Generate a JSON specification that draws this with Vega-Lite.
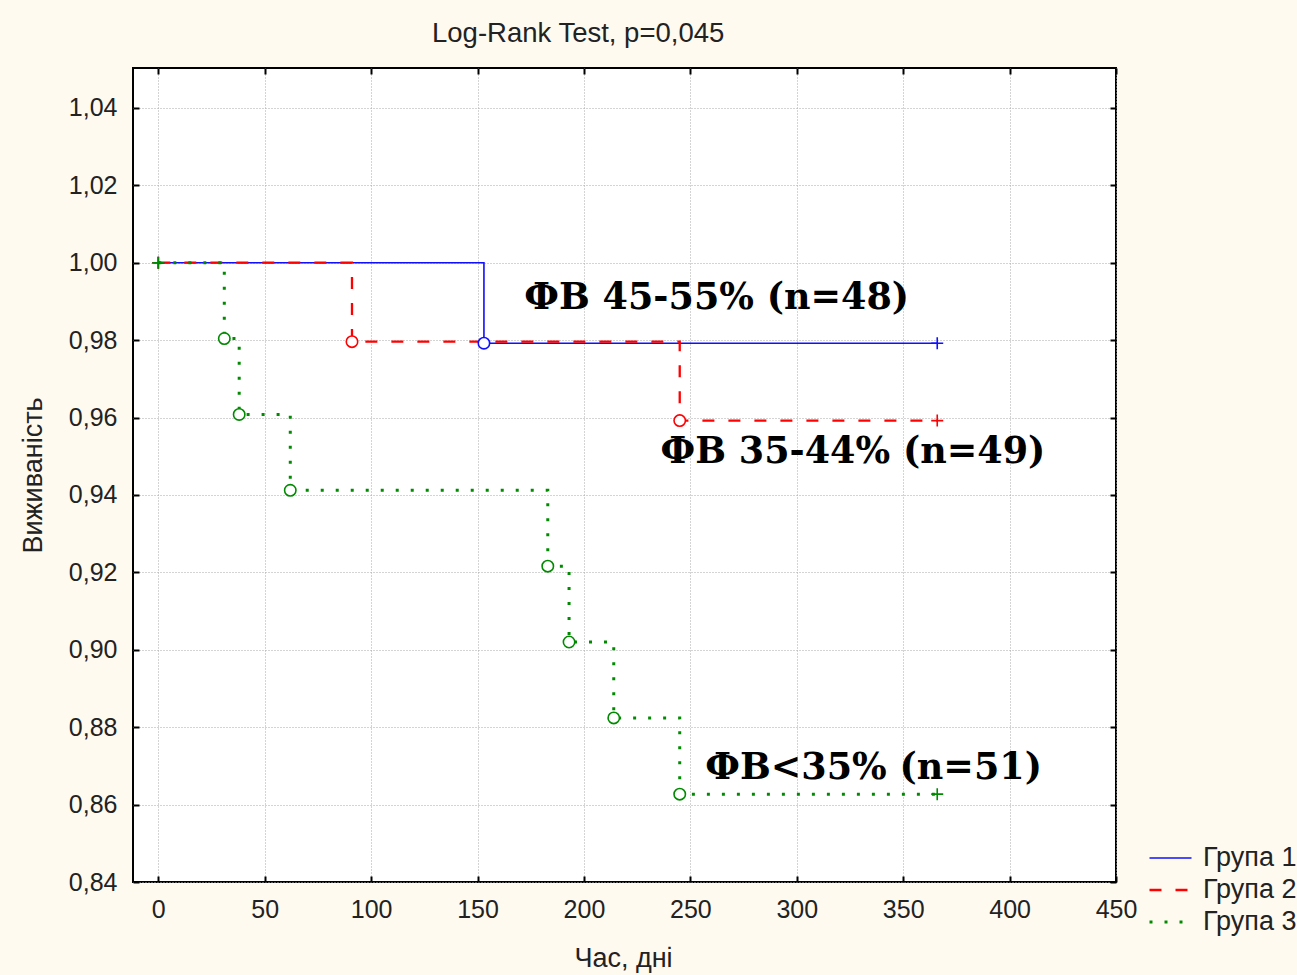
{
  "$schema": "https://vega.github.io/schema/vega-lite/v6.json",
  "autosize": {"type": "none"},
  "width": 983,
  "height": 814,
  "padding": {"left": 133, "top": 68, "right": 181, "bottom": 93},
  "background": "#fffaf0",
  "title": {
    "text": "Log-Rank Test, p=0,045",
    "anchor": "start",
    "frame": "group",
    "dx": 299,
    "offset": -2,
    "baseline": "alphabetic",
    "font": "Liberation Sans",
    "fontSize": 27.5,
    "fontWeight": "normal",
    "color": "#222222"
  },
  "datasets": {
    "curves": [
      {"group": "Група 1", "t": 0, "s": 1.0, "kind": "start"},
      {"group": "Група 1", "t": 153, "s": 0.9792, "kind": "event"},
      {"group": "Група 1", "t": 366, "s": 0.9792, "kind": "censor"},
      {"group": "Група 2", "t": 0, "s": 1.0, "kind": "start"},
      {"group": "Група 2", "t": 91, "s": 0.9796, "kind": "event"},
      {"group": "Група 2", "t": 245, "s": 0.9592, "kind": "event"},
      {"group": "Група 2", "t": 366, "s": 0.9592, "kind": "censor"},
      {"group": "Група 3", "t": 0, "s": 1.0, "kind": "start"},
      {"group": "Група 3", "t": 31, "s": 0.9804, "kind": "event"},
      {"group": "Група 3", "t": 38, "s": 0.9608, "kind": "event"},
      {"group": "Група 3", "t": 62, "s": 0.9412, "kind": "event"},
      {"group": "Група 3", "t": 183, "s": 0.9216, "kind": "event"},
      {"group": "Група 3", "t": 193, "s": 0.902, "kind": "event"},
      {"group": "Група 3", "t": 214, "s": 0.8824, "kind": "event"},
      {"group": "Група 3", "t": 245, "s": 0.8627, "kind": "event"},
      {"group": "Група 3", "t": 366, "s": 0.8627, "kind": "censor"}
    ],
    "notes": [
      {"label": "ФВ 45-55% (n=48)", "t": 172, "s": 0.9909},
      {"label": "ФВ 35-44% (n=49)", "t": 236, "s": 0.9511},
      {"label": "ФВ<35% (n=51)", "t": 257, "s": 0.8695}
    ]
  },
  "config": {
    "view": {"stroke": "#000000", "strokeWidth": 2, "fill": "#ffffff"},
    "axis": {
      "labelFont": "Liberation Sans",
      "labelFontSize": 25,
      "labelColor": "#222222",
      "labelFlush": false,
      "titleFont": "Liberation Sans",
      "titleFontSize": 27,
      "titleFontWeight": "normal",
      "titleColor": "#222222",
      "domain": false,
      "tickColor": "#000000",
      "tickWidth": 2,
      "tickSize": -6,
      "gridColor": "#a8a8a8",
      "gridDash": [1, 2],
      "gridWidth": 1
    }
  },
  "resolve": {"axis": {"x": "independent", "y": "independent"}},
  "layer": [
    {
      "data": {"name": "curves"},
      "mark": {"type": "line", "interpolate": "step-after"},
      "encoding": {
        "x": {
          "field": "t", "type": "quantitative",
          "scale": {"domain": [-11.9, 450], "nice": false, "zero": false},
          "axis": {
            "orient": "bottom",
            "values": [0, 50, 100, 150, 200, 250, 300, 350, 400, 450],
            "format": "d",
            "labelPadding": 21,
            "title": "Час, дні",
            "titleX": 490,
            "titleY": 76,
            "titleBaseline": "middle",
            "titleAlign": "center"
          }
        },
        "y": {
          "field": "s", "type": "quantitative",
          "scale": {"domain": [0.84, 1.0503], "nice": false, "zero": false},
          "axis": {
            "orient": "left",
            "values": [0.84, 0.86, 0.88, 0.9, 0.92, 0.94, 0.96, 0.98, 1.0, 1.02, 1.04],
            "labelExpr": "replace(format(datum.value, '.2f'), '.', ',')",
            "labelPadding": 22,
            "title": "Виживаність",
            "titleX": -100,
            "titleY": 407,
            "titleAngle": -90,
            "titleBaseline": "middle",
            "titleAlign": "center"
          }
        },
        "color": {
          "field": "group", "type": "nominal",
          "scale": {"domain": ["Група 1", "Група 2", "Група 3"], "range": ["#1010ff", "#ff0000", "#008a00"]},
          "legend": {
            "orient": "none",
            "legendX": 1015,
            "legendY": 774,
            "title": null,
            "padding": 0,
            "symbolType": "stroke",
            "symbolSize": 1764,
            "symbolStrokeWidth": 2.5,
            "clipHeight": 32,
            "rowPadding": 0,
            "labelOffset": 10,
            "labelFont": "Liberation Sans",
            "labelFontSize": 27,
            "labelColor": "#222222",
            "labelLimit": 300
          }
        },
        "strokeDash": {
          "field": "group", "type": "nominal",
          "scale": {"domain": ["Група 1", "Група 2", "Група 3"], "range": [[1, 0], [12, 14], [3, 12]]},
          "legend": {
            "orient": "none",
            "legendX": 1015,
            "legendY": 774,
            "title": null,
            "padding": 0,
            "symbolType": "stroke",
            "symbolSize": 1764,
            "symbolStrokeWidth": 2.5,
            "clipHeight": 32,
            "rowPadding": 0,
            "labelOffset": 10,
            "labelFont": "Liberation Sans",
            "labelFontSize": 27,
            "labelColor": "#222222",
            "labelLimit": 300
          }
        },
        "strokeWidth": {
          "field": "group", "type": "nominal",
          "scale": {"domain": ["Група 1", "Група 2", "Група 3"], "range": [1.6, 3, 3]},
          "legend": null
        }
      }
    },
    {
      "data": {"name": "curves"},
      "transform": [{"filter": "datum.kind === 'event'"}],
      "mark": {"type": "point", "shape": "circle", "filled": true, "fill": "#ffffff", "size": 130, "strokeWidth": 1.6, "opacity": 1},
      "encoding": {
        "x": {"field": "t", "type": "quantitative", "axis": null},
        "y": {"field": "s", "type": "quantitative", "axis": null},
        "stroke": {
          "field": "group", "type": "nominal",
          "scale": {"domain": ["Група 1", "Група 2", "Група 3"], "range": ["#1010ff", "#ff0000", "#008a00"]},
          "legend": null
        }
      }
    },
    {
      "data": {"name": "curves"},
      "transform": [{"filter": "datum.kind !== 'event'"}],
      "mark": {"type": "point", "shape": "M-1,0H1M0,-1V1", "filled": false, "size": 144, "strokeWidth": 1.6, "opacity": 1},
      "encoding": {
        "x": {"field": "t", "type": "quantitative", "axis": null},
        "y": {"field": "s", "type": "quantitative", "axis": null},
        "stroke": {
          "field": "group", "type": "nominal",
          "scale": {"domain": ["Група 1", "Група 2", "Група 3"], "range": ["#1010ff", "#ff0000", "#008a00"]},
          "legend": null
        }
      }
    },
    {
      "data": {"name": "notes"},
      "mark": {"type": "text", "align": "left", "baseline": "middle", "font": "DejaVu Serif", "fontWeight": "bold", "fontSize": 36.5, "color": "#000000"},
      "encoding": {
        "x": {
          "field": "t", "type": "quantitative",
          "axis": {"orient": "top", "labels": false, "grid": false, "title": null, "values": [0, 50, 100, 150, 200, 250, 300, 350, 400, 450]}
        },
        "y": {
          "field": "s", "type": "quantitative",
          "axis": {"orient": "right", "labels": false, "grid": false, "title": null, "values": [0.84, 0.86, 0.88, 0.9, 0.92, 0.94, 0.96, 0.98, 1.0, 1.02, 1.04]}
        },
        "text": {"field": "label"}
      }
    }
  ]
}
